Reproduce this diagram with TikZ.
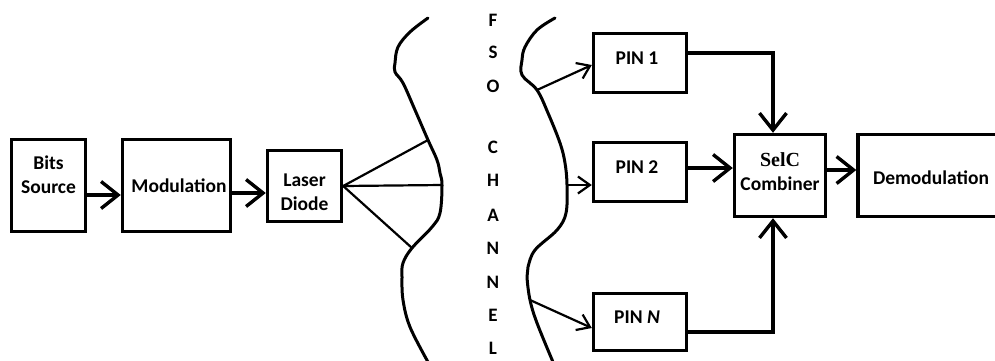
\documentclass[tikz,border=0pt]{standalone}
\usepackage{fontspec}
\setmainfont{Carlito}
\newfontfamily\selcfont{Liberation Serif}
\usetikzlibrary{arrows.meta}
\begin{document}
\begin{tikzpicture}[x=1pt,y=-1pt,
  blk/.style={draw, line width=3.4pt, inner sep=0pt, minimum width=#1},
  lbl/.style={font=\fontsize{19.5}{24}\selectfont\bfseries, align=center, inner sep=0pt},
  flow/.style={line width=3.4pt, -{Straight Barb[length=17pt,width=27pt]}},
  feed/.style={line width=2.2pt, -{Straight Barb[length=12pt,width=17pt]}},
  ray/.style={line width=2.2pt},
  wave/.style={line width=3pt, line join=round, line cap=round},
  chan/.style={font=\fontsize{19}{20}\selectfont\bfseries, inner sep=0pt}]
\useasboundingbox (0,0) rectangle (995,360);

% transmitter chain
\node[blk=74pt, minimum height=92pt] (bits)  at (48.5,185.5) {};
\node[blk=108pt, minimum height=92pt] (mod)  at (176.5,185.5) {};
\node[blk=74pt, minimum height=71pt] (laser) at (304.5,186) {};
\node[lbl] (bitsT)  at (48.5,175) {Bits\\Source};
\node[lbl] (modT)   at (179,186) {Modulation};
\node[lbl] (laserT) at (304.5,192) {Laser\\Diode};

% receiver side
\node[blk=93pt, minimum height=59pt] (pin1) at (640,63) {};
\node[blk=93pt, minimum height=59pt] (pin2) at (640,172) {};
\node[blk=93pt, minimum height=57pt] (pinN) at (640,322) {};
\node[blk=91pt, minimum height=82pt] (comb) at (780,175.5) {};
\node[blk=150pt, minimum height=82pt] (demod) at (933,175.5) {};
\node[lbl] (pin1T) at (637,58) {PIN 1};
\node[lbl] (pin2T) at (637,167) {PIN 2};
\node[lbl] (pinNT) at (637,317) {PIN \textit{N}};
\node[lbl] (combT) at (780,172) {{\selcfont\fontsize{20}{24}\selectfont SelC}\\Combiner};
\node[lbl] (demodT) at (931,178) {Demodulation};

% channel boundaries
\draw[wave] plot[smooth, tension=0.6] coordinates {
  (428,18) (410,32) (398,47) (395,63) (395,72) (403,83) (415,110)
  (428,140) (437,160) (440,173) (442,185) (440,213) (432,227)
  (412,248) (403,263) (402,277) (403,300) (410,327) (428,362)};
\draw[wave] plot[smooth, tension=0.6] coordinates {
  (555,18) (537,30) (525,47) (522,60) (522,75) (537,90) (548,113)
  (560,143) (565,163) (567,185) (566,213) (557,230) (535,250)
  (528,267) (527,277) (530,300) (537,323) (553,362)};
\coordinate (hitA) at (428,140);
\coordinate (hitB) at (442,185);
\coordinate (hitC) at (412,248);
\coordinate (outA) at (537,90);
\coordinate (outB) at (567,185);
\coordinate (outC) at (530,300);

% channel label
\foreach \ch/\yy [count=\i] in {F/20,S/52,O/86,C/147,H/180,A/215,N/248,N/282,E/315,L/348}
  \node[chan] (ch\i) at (493,\yy) {\ch};

% connectors
\draw[flow] ([yshift=-9.5pt]bits.east) -- ([yshift=-9.5pt]mod.west);
\draw[flow] ([yshift=-7.5pt]mod.east) -- ([yshift=-7pt]laser.west);
\draw[ray] (laser.east) -- (hitA);
\draw[ray] (laser.east) -- (hitB);
\draw[ray] (laser.east) -- (hitC);
\draw[feed] (outA) -- ([yshift=-2pt]pin1.west);
\draw[feed] (outB) -- ([yshift=-13pt]pin2.west);
\draw[feed] (outC) -- ([yshift=-6pt]pinN.west);
\draw[flow] ([yshift=10pt]pin1.east) -| ([xshift=-7pt]comb.north);
\draw[flow] ([yshift=4pt]pin2.east) -- ([yshift=7.5pt]comb.west);
\draw[flow] ([yshift=-10pt]pinN.east) -| ([xshift=-7pt]comb.south);
\draw[flow] ([yshift=5.5pt]comb.east) -- ([yshift=5.5pt]demod.west);
\end{tikzpicture}
\end{document}
